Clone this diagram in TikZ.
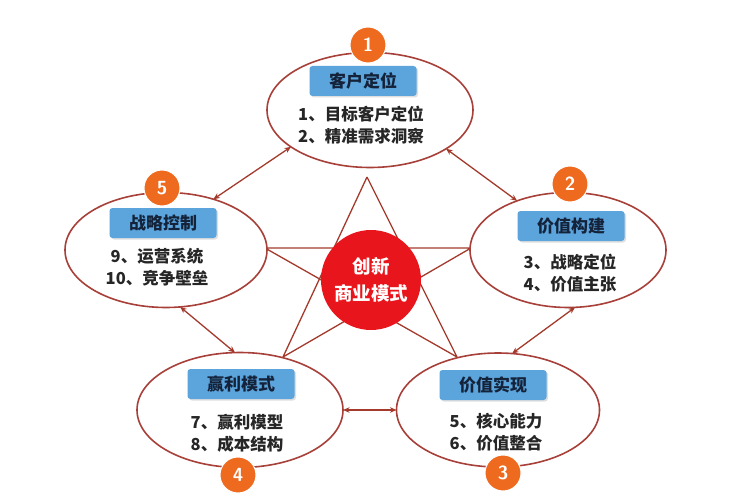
\documentclass[tikz,border=0pt]{standalone}
\usepackage{fontspec}
\newfontfamily\cjk{Noto Sans CJK SC}
\usetikzlibrary{shapes.geometric,arrows.meta,shadows}
\definecolor{ellred}{HTML}{A8403A}
\definecolor{arrred}{HTML}{A33A2C}
\definecolor{circred}{HTML}{E8161C}
\definecolor{badgeor}{HTML}{EE6A1F}
\definecolor{boxblue}{HTML}{5BA4DC}
\definecolor{boxtext}{HTML}{14233A}
\tikzset{
  ell/.style={ellipse, draw=ellred, line width=1.6pt, fill=white, inner sep=0pt, outer sep=0pt},
  starline/.style={draw=arrred, line width=1.3pt},
  biarrow/.style={draw=arrred, line width=1.3pt, {Stealth[length=6.5pt,width=5.5pt]}-{Stealth[length=6.5pt,width=5.5pt]}},
  badge/.style={circle, fill=badgeor, draw=white, line width=1pt, minimum size=36pt, inner sep=0pt, text=white, font=\fontsize{19}{19}\selectfont\sffamily\bfseries},
  labelbox/.style={rectangle, rounded corners=3pt, fill=boxblue, minimum width=107pt, minimum height=30pt, inner sep=0pt, text=boxtext, font=\cjk\bfseries\fontsize{17}{17}\selectfont, drop shadow={shadow xshift=1.5pt, shadow yshift=-1.5pt, opacity=0.25}},
  items/.style={align=center, text=black!85, font=\cjk\bfseries\fontsize{16.5}{22}\selectfont, inner sep=0pt},
}
\begin{document}
\begin{tikzpicture}[x=1pt,y=-1pt]
\useasboundingbox (0,0) rectangle (750,500);
\fill[white] (0,0) rectangle (750,500);

% star points
\coordinate (sA) at (367,177);
\coordinate (sL) at (265,248);
\coordinate (sR) at (471,248);
\coordinate (sBL) at (283,357);
\coordinate (sBR) at (457,357);
\draw[starline] (sA) -- (sBL) (sA) -- (sBR) (sL) -- (sR) (sL) -- (sBR) (sR) -- (sBL);

% ellipses
\node[ell, minimum width=206pt, minimum height=115pt] (e1) at (370,110) {};
\node[ell, minimum width=202pt, minimum height=115pt] (e5) at (166,250) {};
\node[ell, minimum width=196pt, minimum height=115pt] (e2) at (568,250) {};
\node[ell, minimum width=206pt, minimum height=115pt] (e4) at (240,410) {};
\node[ell, minimum width=203pt, minimum height=114pt] (e3) at (498,410) {};

% centre circle
\node[circle, fill=circred, minimum size=100pt, inner sep=0pt, text=white, align=center,
      font=\cjk\bfseries\fontsize{18.5}{27}\selectfont] (c) at (371,280) {创新\\商业模式};

% arrows
\draw[biarrow] (e1.205) -- (e5.47);
\draw[biarrow] (e1.333) -- (e2.136);
\draw[biarrow] (e5.284) -- (e4.95);
\draw[biarrow] (e2.277) -- (e3.76);
\draw[biarrow] (e4.east) -- (e3.west);

% label boxes
\node[labelbox] (b1) at (363,81) {客户定位};
\node[labelbox] (b5) at (163,223) {战略控制};
\node[labelbox] (b2) at (571,226) {价值构建};
\node[labelbox] (b4) at (241,384) {赢利模式};
\node[labelbox] (b3) at (493,385) {价值实现};

% items
\node[items] (t1) at (361,125) {1、目标客户定位\\2、精准需求洞察};
\node[items] (t5) at (157,267) {9、运营系统\\10、竞争壁垒};
\node[items] (t2) at (570,273) {3、战略定位\\4、价值主张};
\node[items] (t4) at (237,433) {7、赢利模型\\8、成本结构};
\node[items] (t3) at (496,432) {5、核心能力\\6、价值整合};

% badges
\node[badge] (n1) at (368,45) {1};
\node[badge] (n2) at (570,184) {2};
\node[badge] (n5) at (162,188) {5};
\node[badge] (n4) at (238,475) {4};
\node[badge] (n3) at (503,473) {3};
\end{tikzpicture}
\end{document}
